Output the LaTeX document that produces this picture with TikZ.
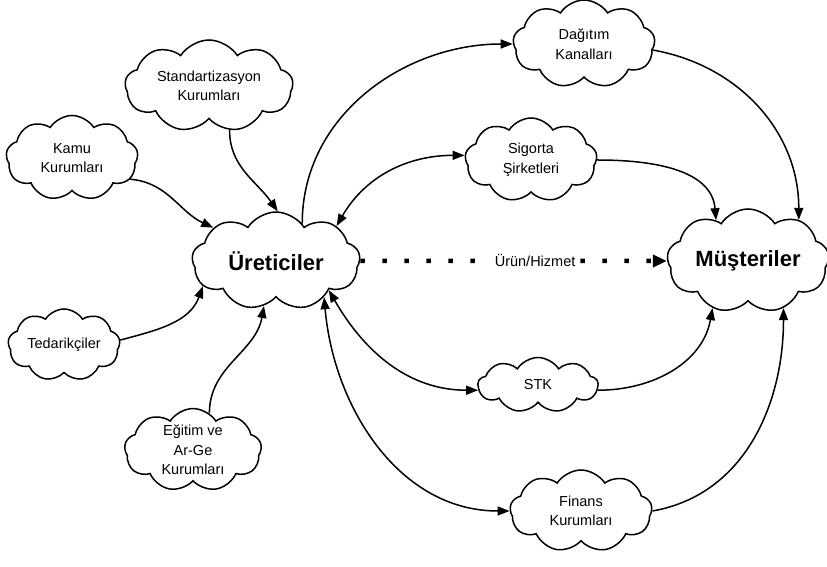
\documentclass[tikz,border=0pt]{standalone}
\usepackage{fontspec}
\setmainfont{Liberation Sans}
\usetikzlibrary{shapes.symbols,arrows.meta}
\begin{document}
\begin{tikzpicture}[x=1pt,y=1pt,
  cl/.style={cloud, cloud puffs=9, cloud puff arc=115, cloud ignores aspect, draw, line width=1.5pt, inner sep=0pt, align=center, font=\fontsize{14.5}{19.5}\selectfont},
  big/.style={cl, font=\fontsize{22}{26}\selectfont\bfseries},
  con/.style={line width=1.5pt, -{Triangle[length=12pt,width=9pt]}},
  bi/.style={line width=1.5pt, {Triangle[length=12pt,width=9pt]}-{Triangle[length=12pt,width=9pt]}}
]
\useasboundingbox (0,0) rectangle (827,567);
\node[cl, minimum width=168, minimum height=92] (std) at (209,481) {Standartizasyon\\Kurumları};
\node[cl, minimum width=132, minimum height=85] (kamu) at (72,409) {Kamu\\Kurumları};
\node[big, minimum width=168, minimum height=98] (ure) at (276,306) {Üreticiler};
\node[cl, minimum width=112, minimum height=72] (ted) at (64,222) {Tedarikçiler};
\node[cl, minimum width=137, minimum height=78] (egt) at (193,117) {Eğitim ve\\Ar-Ge\\Kurumları};
\node[cl, minimum width=142, minimum height=88] (dag) at (584,523) {Dağıtım\\Kanalları};
\node[cl, minimum width=132, minimum height=84] (sig) at (531,407) {Sigorta\\Şirketleri};
\node[big, minimum width=162, minimum height=104] (mus) at (748,306) {Müşteriler};
\node[cl, minimum width=120, minimum height=55] (stk) at (538,182) {STK};
\node[cl, minimum width=142, minimum height=82] (fin) at (581,56) {Finans\\Kurumları};

\draw[con] (std.-65) to[out=-90,in=125] (ure.88);
\draw[con] (kamu.-20) to[out=-5,in=155] (ure.152);
\draw[con] (ted.5) to[out=15,in=250] (ure.199);
\draw[con] (egt.66) to[out=90,in=-100] (ure.255);
\draw[con] (ure.55) to[out=90,in=180] (dag.west);
\draw[bi] (ure.30) to[out=60,in=180] (sig.176);
\draw[con] (sig.east) to[out=0,in=95] (mus.128);
\draw[con] (dag.-5) to[out=-10,in=90] (mus.39);
\draw[bi] (ure.-29) to[out=-60,in=180] (stk.185);
\draw[con] (stk.-5) to[out=0,in=-100] (mus.233);
\draw[bi] (ure.-37) to[out=-85,in=180] (fin.west);
\draw[con] (fin.east) to[out=10,in=-90] (mus.-53);
\draw[line width=4.5pt, dash pattern=on 4.5pt off 17.5pt, -{Triangle[length=14pt,width=12pt]}]
  (ure.east) -- node[fill=white, inner sep=3pt, font=\fontsize{14.5}{17}\selectfont, pos=0.57] (lbl) {Ürün/Hizmet} (mus.west);
\end{tikzpicture}
\end{document}
